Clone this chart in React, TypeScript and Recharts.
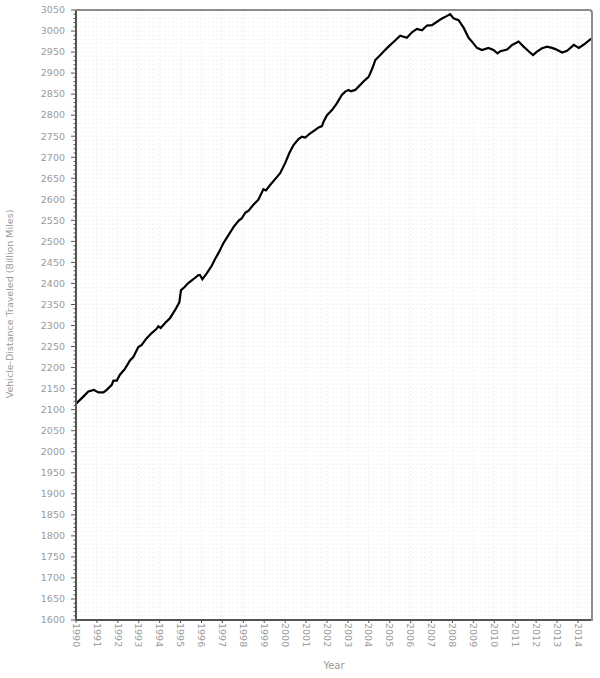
import { LineChart, Line, XAxis, YAxis, CartesianGrid, Label } from "recharts";

// Vehicle-distance traveled, moving 12-month total (billion miles)
const years = [
  1990.0, 1990.35, 1990.59, 1990.85, 1991.07, 1991.31, 1991.47, 1991.71, 1991.79, 1991.95,
  1992.1, 1992.34, 1992.58, 1992.74, 1992.98, 1993.14, 1993.38, 1993.62, 1993.83, 1993.94,
  1994.05, 1994.26, 1994.5, 1994.74, 1994.94, 1995.02, 1995.18, 1995.37, 1995.61, 1995.85,
  1995.93, 1996.04, 1996.25, 1996.49, 1996.65, 1996.81, 1997.05, 1997.29, 1997.53, 1997.77,
  1997.93, 1998.09, 1998.25, 1998.48, 1998.72, 1998.96, 1999.08, 1999.28, 1999.52, 1999.76,
  2000.0, 2000.2, 2000.4, 2000.64, 2000.8, 2000.96, 2001.2, 2001.44, 2001.6, 2001.76,
  2001.84, 2002.0, 2002.24, 2002.47, 2002.71, 2002.87, 2003.03, 2003.14, 2003.35, 2003.59,
  2003.83, 2003.99, 2004.15, 2004.31, 2004.55, 2004.74, 2004.94, 2005.18, 2005.5, 2005.82,
  2006.06, 2006.3, 2006.54, 2006.78, 2007.02, 2007.26, 2007.5, 2007.74, 2007.89, 2008.05,
  2008.29, 2008.53, 2008.77, 2008.96, 2009.17, 2009.41, 2009.72, 2009.96, 2010.15, 2010.29,
  2010.61, 2010.85, 2011.16, 2011.4, 2011.64, 2011.85, 2012.04, 2012.28, 2012.52, 2012.76,
  2012.92, 2013.24, 2013.48, 2013.8, 2014.04, 2014.28, 2014.59, 2014.67,
];

const vmt = [
  2114, 2131, 2143, 2147, 2141, 2141, 2147, 2159, 2169, 2169,
  2183, 2197, 2217, 2225, 2249, 2254, 2270, 2282, 2291, 2298,
  2294, 2306, 2318, 2337, 2355, 2384, 2391, 2401, 2410, 2420,
  2420, 2410, 2424, 2442, 2458, 2472, 2496, 2515, 2534, 2549,
  2555, 2568, 2573, 2587, 2599, 2624, 2621, 2634, 2648, 2662,
  2686, 2710, 2729, 2743, 2749, 2747, 2757, 2765, 2771, 2774,
  2785, 2800, 2812, 2828, 2848, 2856, 2860, 2857, 2860, 2872,
  2884, 2891, 2909, 2931, 2943, 2953, 2963, 2974, 2989, 2984,
  2997, 3005, 3002, 3013, 3014, 3022, 3030, 3036, 3040, 3030,
  3026, 3008, 2984, 2973, 2960, 2955, 2960, 2955, 2947, 2952,
  2956, 2967, 2975, 2963, 2952, 2943, 2951, 2959, 2963, 2960,
  2957, 2949, 2953, 2967, 2960, 2968, 2980, 2982,
];

const yearTicks = [
  1990, 1991, 1992, 1993, 1994, 1995, 1996, 1997, 1998, 1999, 2000, 2001, 2002,
  2003, 2004, 2005, 2006, 2007, 2008, 2009, 2010, 2011, 2012, 2013, 2014,
];

// minor ticks every 10, labels every 50
const yTicks = Array.from({ length: 146 }, (_, i) => 1600 + i * 10);

const data = years.map((year, i) => ({ year, vmt: vmt[i] }));

const FONT = "'DejaVu Sans', Verdana, sans-serif";
const TEXT = "#9a9a9a";
const AXIS = "#555";

const YTick = (props: any) => {
  const { x, y, payload } = props;
  const major = payload.value % 50 === 0;
  return (
    <g>
      <line x1={x - (major ? 5 : 2.5)} x2={x} y1={y} y2={y} stroke={AXIS} strokeWidth={1} />
      {major && (
        <text x={x - 11} y={y} dy="0.35em" textAnchor="end" fontSize={9.5} fontFamily={FONT} fill={TEXT}>
          {payload.value}
        </text>
      )}
    </g>
  );
};

const XTick = (props: any) => {
  const { x, y, payload } = props;
  return (
    <g>
      <line x1={x} x2={x} y1={y} y2={y + 3} stroke={AXIS} strokeWidth={1} />
      <text
        transform={`translate(${x},${y + 3}) rotate(90)`}
        dy="0.35em"
        textAnchor="start"
        fontSize={9.5}
        fontFamily={FONT}
        fill={TEXT}
      >
        {payload.value}
      </text>
    </g>
  );
};

export default function App() {
  return (
    <div style={{ position: "absolute", left: 0, top: 0, width: 600, height: 678, background: "#fff" }}>
      <LineChart width={600} height={678} data={data} margin={{ top: 10, right: 8, bottom: 0, left: 0 }}>
        <CartesianGrid stroke="#f3f3f3" strokeDasharray="2 2" />
        <XAxis
          dataKey="year"
          type="number"
          domain={["dataMin", "dataMax"]}
          ticks={yearTicks}
          interval={0}
          height={58}
          tickSize={0}
          tickMargin={0}
          tickLine={false}
          tick={<XTick />}
          axisLine={{ stroke: AXIS, strokeWidth: 2 }}
        >
          <Label
            content={(p: any) => {
              const vb = p.viewBox;
              return (
                <text x={vb.x + vb.width / 2} y={vb.y + 49} textAnchor="middle" fontSize={10} fontFamily={FONT} fill={TEXT}>
                  Year
                </text>
              );
            }}
          />
        </XAxis>
        <YAxis
          type="number"
          domain={[1600, 3050]}
          ticks={yTicks}
          interval={0}
          width={76}
          tickSize={0}
          tickMargin={0}
          tickLine={false}
          tick={<YTick />}
          axisLine={{ stroke: AXIS, strokeWidth: 2 }}
        >
          <Label
            content={(p: any) => {
              const vb = p.viewBox;
              const cx = vb.x + 10;
              const cy = vb.y + vb.height / 2 - 11;
              return (
                <text
                  transform={`translate(${cx},${cy}) rotate(-90)`}
                  dy="0.35em"
                  textAnchor="middle"
                  fontSize={9.5}
                  fontFamily={FONT}
                  fill={TEXT}
                >
                  Vehicle-Distance Traveled (Billion Miles)
                </text>
              );
            }}
          />
        </YAxis>
        <Line
          type="linear"
          dataKey="vmt"
          stroke="#000"
          strokeWidth={2.2}
          dot={false}
          isAnimationActive={false}
        />
      </LineChart>
      <div
        style={{
          position: "absolute",
          left: 76,
          top: 9,
          width: 517,
          height: 612,
          boxSizing: "border-box",
          borderTop: "2px solid #8c8c8c",
          borderRight: "2px solid #8c8c8c",
          borderTopRightRadius: 4,
          pointerEvents: "none",
        }}
      />
    </div>
  );
}
